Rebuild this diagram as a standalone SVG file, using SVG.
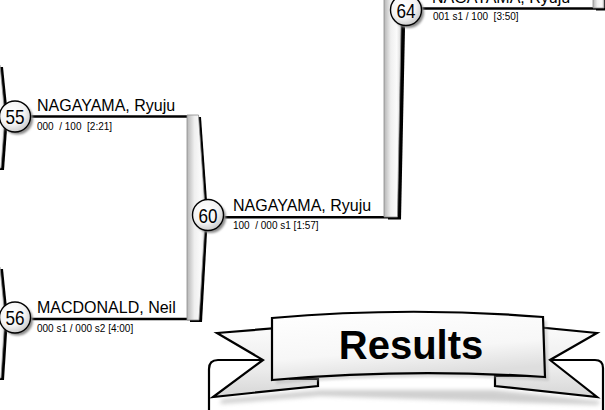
<svg xmlns="http://www.w3.org/2000/svg" width="605" height="410" viewBox="0 0 605 410">
<style>
text{font-family:"Liberation Sans",Arial,sans-serif;fill:#000}
.name{font-size:16px}
.score{font-size:10px;white-space:pre}
.num{font-size:21px;text-anchor:middle}
.line{stroke:#000;stroke-width:2.4;fill:none}
.bar{fill:url(#barGrad);stroke:#8a8a8a;stroke-width:0.8}
.barsh{fill:#000}
.circ{fill:url(#circGrad);stroke:#000;stroke-width:1.4}
.csh{fill:#8c8c8c;filter:url(#blur1)}
.ol{stroke:#000;stroke-width:2.2;stroke-linejoin:miter}
</style>
<defs>
<linearGradient id="barGrad" x1="0" y1="0" x2="1" y2="0">
<stop offset="0" stop-color="#b5b5b5"/>
<stop offset="0.4" stop-color="#efefef"/>
<stop offset="0.75" stop-color="#fbfbfb"/>
<stop offset="1" stop-color="#d8d8d8"/>
</linearGradient>
<radialGradient id="circGrad" cx="0.4" cy="0.35" r="0.7">
<stop offset="0" stop-color="#ffffff"/>
<stop offset="0.6" stop-color="#f3f3f3"/>
<stop offset="1" stop-color="#c4c4c4"/>
</radialGradient>
<linearGradient id="mainGrad" x1="0" y1="0" x2="0.3" y2="1">
<stop offset="0" stop-color="#ffffff"/>
<stop offset="0.65" stop-color="#f7f7f7"/>
<stop offset="1" stop-color="#dedede"/>
</linearGradient>
<linearGradient id="tailGrad" x1="0" y1="0" x2="0" y2="1">
<stop offset="0" stop-color="#fbfbfb"/>
<stop offset="0.6" stop-color="#ececec"/>
<stop offset="1" stop-color="#d6d6d6"/>
</linearGradient>
<filter id="blur1" x="-30%" y="-30%" width="160%" height="160%"><feGaussianBlur stdDeviation="1.2"/></filter>
<filter id="blur3" x="-10%" y="-30%" width="120%" height="160%"><feGaussianBlur stdDeviation="2"/></filter>
</defs>

<g id="connectors">
<line class="line" x1="28" y1="116.5" x2="190" y2="116.5"/>
<line class="line" x1="28" y1="319" x2="198" y2="319"/>
<line class="line" x1="220" y1="217.3" x2="388" y2="217.3"/>
<line class="line" x1="420" y1="8.5" x2="596" y2="8.5"/>
</g>

<g id="bars">
<polygon class="barsh" points="-9,67 3,67 8,116 4,170 -9,170"/>
<polygon class="bar" points="-12,65 0,65 5,116 1,168 -12,168"/>
<polygon class="barsh" points="-9,269 3,269 8,318 4,380 -9,380"/>
<polygon class="bar" points="-12,267 0,267 5,317 1,378 -12,378"/>
<polygon class="barsh" points="190,117 201,117 208,215 202,322 190,322"/>
<polygon class="bar" points="187,115 198.5,115 205.5,215 199,320 187,320"/>
<polygon class="barsh" points="388,-3 402,-3 405,28 401,219.5 388,219.5"/>
<polygon class="bar" points="384,-5 398,-5 401,27 397.5,217 384,217"/>
<polygon class="barsh" points="596,-3 607,-3 607,10.5 596,10.5"/>
<polygon class="bar" points="593,-5 604,-5 604,8 593,8"/>
</g>

<g id="node-55">
<circle class="csh" cx="17.5" cy="119" r="15.5"/>
<circle class="circ" cx="15" cy="116.5" r="15.5"/>
<text class="num" x="15" y="124" textLength="19" lengthAdjust="spacingAndGlyphs">55</text>
<text class="name" x="37" y="111">NAGAYAMA, Ryuju</text>
<text class="score" x="37" y="130" xml:space="preserve">000  / 100  [2:21]</text>
</g>

<g id="node-56">
<circle class="csh" cx="17.5" cy="320" r="15.5"/>
<circle class="circ" cx="15" cy="317.5" r="15.5"/>
<text class="num" x="15" y="325" textLength="19" lengthAdjust="spacingAndGlyphs">56</text>
<text class="name" x="37" y="313">MACDONALD, Neil</text>
<text class="score" x="37" y="332" xml:space="preserve">000 s1 / 000 s2 [4:00]</text>
</g>

<g id="node-60">
<circle class="csh" cx="210.5" cy="217.5" r="15.5"/>
<circle class="circ" cx="208" cy="215" r="15.5"/>
<text class="num" x="208" y="222.5" textLength="19" lengthAdjust="spacingAndGlyphs">60</text>
<text class="name" x="233" y="211">NAGAYAMA, Ryuju</text>
<text class="score" x="233" y="229" xml:space="preserve">100  / 000 s1 [1:57]</text>
</g>

<g id="node-64">
<circle class="csh" cx="408.5" cy="12.5" r="15.5"/>
<circle class="circ" cx="406" cy="10" r="15.5"/>
<text class="num" x="406" y="17.5" textLength="19" lengthAdjust="spacingAndGlyphs">64</text>
<text class="name" x="432" y="2.5">NAGAYAMA, Ryuju</text>
<text class="score" x="433" y="20" xml:space="preserve">001 s1 / 100  [3:50]</text>
</g>

<g id="results-box">
<path d="M209,420 L209,369 Q209,360 218,360 L595,360 Q603,360 603,368 L603,420" fill="#fff" stroke="#000" stroke-width="2.2"/>
</g>

<g id="results-banner">
<path d="M222,399 L320,390 L495,390 L600,401 L598,405 L320,396 L220,404 Z" fill="#a0a0a0" opacity="0.5" filter="url(#blur3)"/>
<path class="ol" d="M217,333 L290,327 L290,379 L318,379 L318,386 L213,397 L263,360 Z" fill="url(#tailGrad)"/>
<path class="ol" d="M597,333 L525,326 L525,376 L495,376 L495,386 L597,397 L550,360 Z" fill="url(#tailGrad)"/>
<path d="M276,322 Q410,310 547,321 L549,381 Q410,372 276,384 Z" fill="#a0a0a0" opacity="0.35" filter="url(#blur1)"/>
<path class="ol" d="M272,318 Q408,306 543,317 L545,377 Q408,368 272,380 Z" fill="url(#mainGrad)"/>
<text x="411" y="359" font-size="40" font-weight="bold" text-anchor="middle">Results</text>
</g>
</svg>
